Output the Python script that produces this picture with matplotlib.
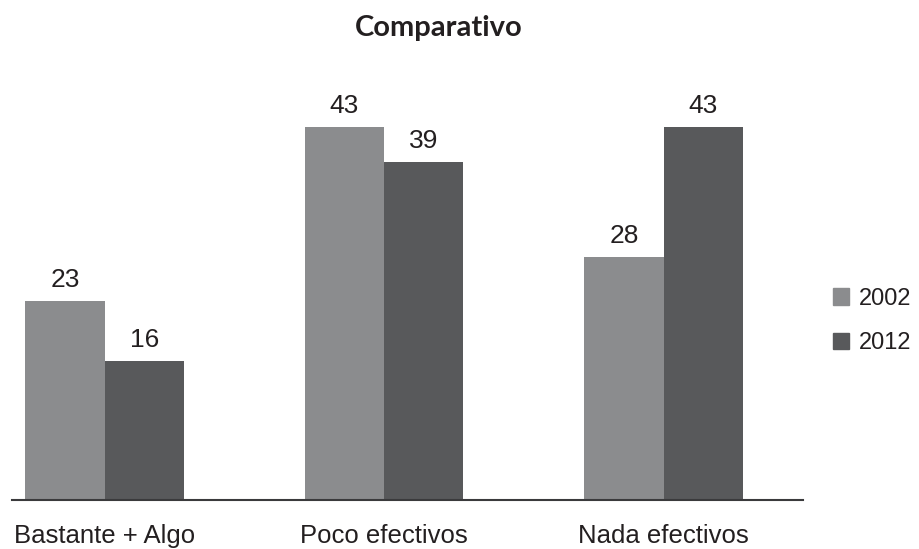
import numpy as np
import matplotlib.pyplot as plt
from matplotlib.patches import Patch

categorias = ['Bastante + Algo', 'Poco efectivos', 'Nada efectivos']
series = ['2002', '2012']
valores_2002 = [23, 43, 28]
valores_2012 = [16, 39, 43]

gris_claro = '#8b8c8e'
gris_oscuro = '#58595b'

plt.rcParams['font.family'] = ['Liberation Sans', 'DejaVu Sans']

fig = plt.figure(figsize=(9.2, 5.49), dpi=100)
W, H = 920, 549
# ejes ubicados en pixeles: base en y=500, de x=12 a x=803
ax = fig.add_axes([12 / W, (H - 500) / H, 791 / W, 440 / H])

x = np.arange(len(categorias))
ancho = 0.284
b1 = ax.bar(x - ancho / 2, valores_2002, ancho, color=gris_claro, linewidth=0)
b2 = ax.bar(x + ancho / 2, valores_2012, ancho, color=gris_oscuro, linewidth=0)

for barras, vals in [(b1, valores_2002), (b2, valores_2012)]:
    for rect, v in zip(barras, vals):
        ax.annotate(str(v), (rect.get_x() + rect.get_width() / 2, v),
                    xytext=(0, 10), textcoords='offset points',
                    ha='center', va='baseline', fontsize=19, color='#231f20')

ax.set_xlim(-0.331, 2.499)
ax.set_ylim(0, 440 / 8.67)
ax.set_xticks(x, categorias)
ax.tick_params(axis='x', length=0, pad=17, labelsize=18.5, labelcolor='#231f20')
ax.set_yticks([])
for lado in ['top', 'right', 'left']:
    ax.spines[lado].set_visible(False)
ax.spines['bottom'].set_color('#3a3a3c')
ax.spines['bottom'].set_linewidth(1.5)

fig.text(439 / W, 1 - 36 / H, 'Comparativo', ha='center', va='baseline',
         fontsize=21, fontweight='bold', family=['Lato', 'DejaVu Sans'],
         color='#231f20')

handles = [Patch(color=gris_claro), Patch(color=gris_oscuro)]
fig.legend(handles, series, loc='center left',
           bbox_to_anchor=(833 / W, 1 - 321 / H), frameon=False,
           fontsize=17, handlelength=0.68, handleheight=0.68,
           handletextpad=0.42, labelspacing=0.95, borderpad=0,
           borderaxespad=0, labelcolor='#231f20')

fig.savefig('out.png', dpi=100)
